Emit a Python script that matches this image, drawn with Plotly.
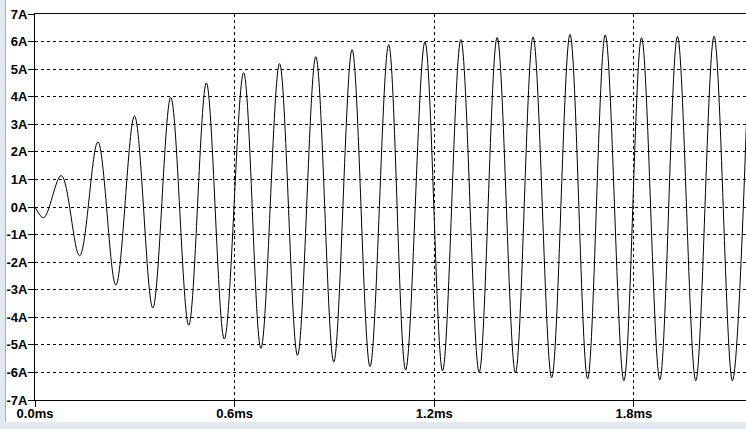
import plotly.graph_objects as go

# Waveform extrema (time in ms, current in A)
t_ms = [0.000, 0.026, 0.079, 0.134, 0.189, 0.243, 0.299, 0.354, 0.408, 0.462,
        0.515, 0.569, 0.627, 0.679, 0.735, 0.789, 0.844, 0.898, 0.953, 1.007,
        1.063, 1.114, 1.172, 1.225, 1.280, 1.335, 1.389, 1.444, 1.497, 1.553,
        1.608, 1.661, 1.714, 1.770, 1.823, 1.878, 1.931, 1.986, 2.041, 2.096,
        2.147]
i_amp = [0.00, -0.39, 1.14, -1.77, 2.36, -2.83, 3.30, -3.66, 3.98, -4.29,
         4.50, -4.79, 4.87, -5.13, 5.20, -5.38, 5.45, -5.62, 5.71, -5.79,
         5.89, -5.91, 5.99, -5.94, 6.07, -6.00, 6.15, -6.02, 6.17, -6.19,
         6.26, -6.23, 6.24, -6.30, 6.14, -6.27, 6.19, -6.30, 6.19, -6.30,
         6.20]

x_tick_vals = [0.0, 0.6, 1.2, 1.8]
x_tick_text = ["0.0ms", "0.6ms", "1.2ms", "1.8ms"]
y_tick_vals = [7, 6, 5, 4, 3, 2, 1, 0, -1, -2, -3, -4, -5, -6, -7]
y_tick_text = ["7A", "6A", "5A", "4A", "3A", "2A", "1A", "0A",
               "-1A", "-2A", "-3A", "-4A", "-5A", "-6A", "-7A"]

X_RANGE = [0.0, 2.137]

fig = go.Figure()
fig.add_trace(go.Scatter(
    x=t_ms, y=i_amp, mode="lines",
    line=dict(color="black", width=1, shape="spline", smoothing=1.0),
    hoverinfo="skip", showlegend=False,
))

W, H = 746, 429
ml, mr, mt, mb = 35, 0, 14, 29
pw, ph = W - ml - mr, H - mt - mb

tick_font = dict(family="Liberation Sans, Arial, sans-serif", size=13,
                 color="black", weight="bold")

fig.update_layout(
    width=W, height=H,
    margin=dict(l=ml, r=mr, t=mt, b=mb, pad=0, autoexpand=False),
    paper_bgcolor="white", plot_bgcolor="white",
    showlegend=False,
    xaxis=dict(
        range=X_RANGE, tickmode="array", tickvals=x_tick_vals,
        ticktext=x_tick_text, tickfont=tick_font, automargin=False,
        ticklabelstandoff=-5,
        showgrid=True, gridcolor="black", gridwidth=1, griddash="3px,3px",
        showline=True, linecolor="black", linewidth=1, mirror=True,
        ticks="outside", ticklen=6, tickcolor="black", tickwidth=1,
        zeroline=False,
    ),
    yaxis=dict(
        range=[-7, 7], tickmode="array", tickvals=y_tick_vals,
        ticktext=y_tick_text, tickfont=tick_font, automargin=False,
        ticklabelstandoff=-2,
        showgrid=True, gridcolor="black", gridwidth=1, griddash="3px,3px",
        showline=True, linecolor="black", linewidth=1, mirror=False,
        ticks="outside", ticklen=6, tickcolor="black", tickwidth=1,
        zeroline=False,
    ),
    shapes=[
        # left window border strip
        dict(type="rect", xref="paper", yref="paper",
             x0=-ml / pw, x1=(5 - ml) / pw, y0=-mb / ph, y1=(ph + mt) / ph,
             fillcolor="#e2e8f0", line=dict(width=0), layer="above"),
        dict(type="line", xref="paper", yref="paper",
             x0=(5.5 - ml) / pw, x1=(5.5 - ml) / pw, y0=-22 / ph, y1=(ph + mt) / ph,
             line=dict(color="#a8b0ba", width=1), layer="above"),
        # bottom window border strip
        dict(type="rect", xref="paper", yref="paper",
             x0=-ml / pw, x1=1.0, y0=-mb / ph, y1=-22 / ph,
             fillcolor="#e2e8f0", line=dict(width=0), layer="above"),
    ],
)

fig.write_html("out.html",
               config={"displayModeBar": False},
               post_script="document.body.style.margin='0px';"
                           "document.body.style.overflow='hidden';")
